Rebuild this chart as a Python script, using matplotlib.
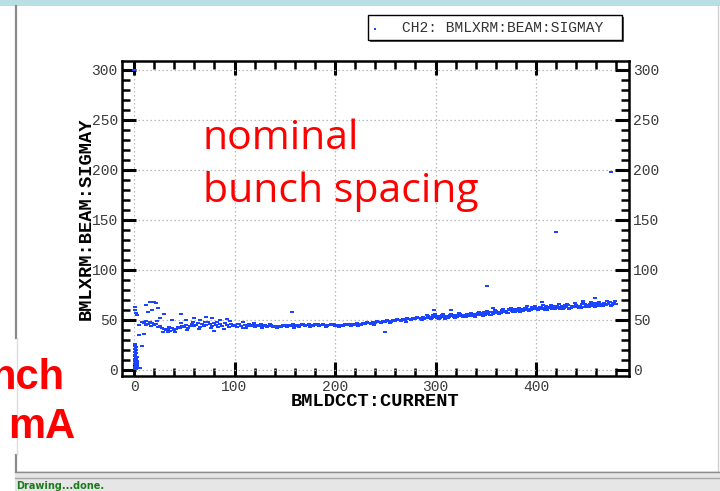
import matplotlib
matplotlib.use("Agg")
import matplotlib.pyplot as plt
from matplotlib.patches import Rectangle
from matplotlib.lines import Line2D
from matplotlib.ticker import MultipleLocator

# ---- data: sigma-y versus beam current ----
band_x = [8, 10, 12, 14, 16, 18, 20, 22, 24, 26, 28, 30, 32, 34, 36, 38, 40, 42, 44, 46,
          48, 50, 52, 54, 56, 58, 60, 62, 64, 66, 68, 70, 72, 74, 76, 78, 80, 82, 84, 86,
          88, 90, 92, 94, 96, 98, 100, 102, 104, 106, 108, 110, 112, 114, 116, 118, 120,
          122, 124, 126, 128, 130, 132, 134, 136, 138, 140, 142, 144, 146, 148, 150, 152,
          154, 156, 158, 160, 162, 164, 166, 168, 170, 172, 174, 176, 178, 180, 182, 184,
          186, 188, 190, 192, 194, 196, 198, 200, 202, 204, 206, 208, 210, 212, 214, 216,
          218, 220, 222, 224, 226, 228, 230, 232, 234, 236, 238, 240, 242, 244, 246, 248,
          250, 252, 254, 256, 258, 260, 262, 264, 266, 268, 270, 272, 274, 276, 278, 280,
          282, 284, 286, 288, 290, 292, 294, 296, 298, 300, 302, 304, 306, 308, 310, 312,
          314, 316, 318, 320, 322, 324, 326, 328, 330, 332, 334, 336, 338, 340, 342, 344,
          346, 348, 350, 352, 354, 356, 358, 360, 362, 364, 366, 368, 370, 372, 374, 376,
          378, 380, 382, 384, 386, 388, 390, 392, 394, 396, 398, 400, 402, 404, 406, 408,
          410, 412, 414, 416, 418, 420, 422, 424, 426, 428, 430, 432, 434, 436, 438, 440,
          442, 444, 446, 448, 450, 452, 454, 456, 458, 460, 462, 464, 466, 468, 470, 472,
          474, 476, 478, 480]
band_y = [48, 47, 49, 46, 48, 47, 45, 46, 43, 44, 42, 41, 40, 41, 39, 42, 40, 41, 43, 42,
          44, 43, 45, 42, 44, 46, 44, 45, 47, 43, 46, 44, 45, 48, 46, 44, 47, 45, 43, 46,
          44, 47, 45, 43, 46, 44, 45, 43, 46, 44, 42, 45, 44, 46, 44, 45, 43,
          45, 44, 46, 44, 45, 43, 44, 45, 43, 44, 42, 44, 43, 45, 44, 43,
          45, 44, 46, 44, 45, 43, 45, 46, 44, 45, 46, 45, 44, 46, 45, 44,
          45, 46, 45, 44, 45, 46, 45, 44, 45, 43, 45, 44, 46, 45, 46, 44,
          46, 45, 47, 46, 45, 47, 46, 48, 47, 46, 48, 47, 49, 48, 47, 49,
          48, 50, 49, 48, 50, 49, 51, 50, 49, 51, 50, 52, 51, 50, 52, 51,
          53, 52, 51, 53, 52, 54, 53, 52, 54, 53, 54, 52, 55, 53, 54, 52,
          55, 54, 53, 55, 54, 56, 54, 55, 53, 56, 55, 54, 56, 55, 57, 55,
          56, 58, 56, 57, 55, 58, 57, 59, 57, 58, 60, 58, 59, 57, 60, 59,
          61, 59, 60, 58, 61, 60, 62, 60, 61, 63, 61, 62, 60, 63, 61, 62,
          64, 62, 63, 61, 64, 62, 63, 61, 64, 62, 63, 65, 62, 64, 63, 65,
          63, 64, 66, 63, 65, 64, 66, 64, 65, 67, 64, 66, 65, 67, 65, 66,
          68, 65, 67, 66]

# second row that thickens the band
thick_x = [12, 17, 23, 29, 35, 41, 47, 53, 59, 65, 71, 77, 83, 89, 95, 103, 111, 119,
           127, 135, 143, 151, 159, 167, 175, 183, 191, 199, 207, 215, 223, 231, 239, 247,
           255, 263, 271, 279, 287, 291, 295, 299, 303, 307, 311, 315, 319, 323, 327, 331,
           335, 339, 343, 347, 351, 355, 359, 363, 367, 371, 375, 379, 383, 387, 391, 395,
           399, 403, 407, 411, 415, 419, 423, 427, 431, 435, 439, 443, 447, 451, 455, 459,
           463, 467, 471, 475, 479]
thick_y = [45, 44, 49, 38, 43, 38, 47, 40, 48, 41, 48, 42, 48, 41, 49, 46, 42, 47,
           42, 46, 43, 45, 42, 46, 43, 46, 43, 46, 44, 46, 44, 47, 45, 48,
           47, 50, 48, 52, 50, 55, 51, 56, 51, 56, 52, 56, 52, 57, 53, 56,
           57, 53, 58, 54, 59, 55, 60, 56, 61, 57, 62, 58, 62, 59, 64, 60,
           64, 61, 65, 60, 65, 61, 66, 61, 66, 62, 67, 62, 67, 63, 68, 63,
           68, 64, 69, 64, 69]

# denser readings at high current
dense_x = [289, 293, 297, 301, 305, 309, 313, 317, 321, 325, 329, 333, 337, 341, 345,
           349, 353, 357, 361, 365, 369, 373, 377, 381, 385, 389, 393, 397, 401, 405,
           409, 413, 417, 421, 425, 429, 433, 437, 441, 445, 449, 453, 457, 461, 465,
           469, 473, 477]
dense_y = [51, 52, 55, 52, 54, 51, 53, 55, 53, 54, 55, 54, 55, 56, 57, 55, 58, 56, 58,
           57, 59, 61, 58, 61, 60, 62, 59, 62, 61, 63, 60, 63, 62, 64, 63, 65, 61, 63,
           64, 62, 66, 63, 67, 66, 64, 66, 68, 67]

# scattered readings off the main band
scatter_x = [1, 1, 2, 3, 5, 5, 8, 10, 12, 14, 16, 18, 20, 22, 24, 26, 30, 34, 38, 47,
             52, 60, 66, 72, 78, 80, 86, 92, 108, 157, 250, 298, 315, 351, 357, 383,
             406, 420, 447, 459, 475, 0]
scatter_y = [60, 63, 57, 55, 45, 35, 24, 36, 65, 58, 68, 60, 68, 67, 62, 52, 56, 38, 50,
             56, 50, 52, 50, 53, 52, 39, 50, 51, 48, 58, 38, 60, 60, 84, 62, 60, 68,
             138, 69, 72, 198, 300]

# low readings at the start of the fill
low_x = [0.5, 1, 1.5, 2, 2.5, 3, 4, 5, 6, 1, 1, 1.5, 1, 0.5, 1, 1, 1.5, 2, 0.5, 1, 2,
         1.5, 0.5, 2, 3, 1, 2, 1.5, 3, 2.5, 3, 2.5]
low_y = [2, 3, 2, 4, 2, 3, 2, 2, 2, 6, 9, 12, 15, 18, 21, 24, 8, 5, 11, 14, 17, 20, 26,
         10, 6, 1, 1, 23, 9, 13, 4, 7]

x_ticks = [0, 100, 200, 300, 400]
y_ticks = [0, 50, 100, 150, 200, 250, 300]
legend_text = "CH2: BMLXRM:BEAM:SIGMAY"
x_label = "BMLDCCT:CURRENT"
y_label = "BMLXRM:BEAM:SIGMAY"

W, H = 720, 491
fig = plt.figure(figsize=(W / 100, H / 100), dpi=100)
fig.patch.set_facecolor("white")

def fx(px):
    return px / W

def fy(py):
    return 1 - py / H

# window chrome
fig.add_artist(Rectangle((0, fy(6)), 1, 6 / H, transform=fig.transFigure,
                         facecolor="#b9dfe4", edgecolor="none"))
fig.add_artist(Line2D([fx(15.5), fx(15.5)], [fy(6), fy(338)], transform=fig.transFigure,
                      color="#8a8a8a", lw=1.6))
fig.add_artist(Line2D([fx(15.5), fx(15.5)], [fy(455), fy(471)], transform=fig.transFigure,
                      color="#8a8a8a", lw=1.6))
fig.add_artist(Line2D([fx(17), fx(17)], [fy(338), fy(455)], transform=fig.transFigure,
                      color="#dddddd", lw=1))
fig.add_artist(Line2D([fx(718), fx(718)], [fy(6), fy(471)], transform=fig.transFigure,
                      color="#d0d0d0", lw=1))
fig.add_artist(Rectangle((fx(15), 0), 1, (H - 471) / H, transform=fig.transFigure,
                         facecolor="#e6e6e6", edgecolor="none"))
fig.add_artist(Line2D([fx(15), 1], [fy(471.5), fy(471.5)], transform=fig.transFigure,
                      color="#8c8c8c", lw=1))
fig.add_artist(Line2D([fx(15), 1], [fy(478), fy(478)], transform=fig.transFigure,
                      color="#a8a8a8", lw=1))
fig.text(fx(16), fy(486), "Drawing...done.", color="#1b7a1b", fontsize=7,
         fontweight="bold", family="DejaVu Sans Condensed", va="center", ha="left")

# plot area
ax = fig.add_axes([fx(122), fy(376), fx(629) - fx(122), fy(61) - fy(376)])
blue = "#1a44ff"
dash = [(-1, -0.65), (1, -0.65), (1, 0.65), (-1, 0.65), (-1, -0.65)]
mk = dict(marker=dash, linestyle="none", color=blue, markersize=2.8, markeredgewidth=0)
ax.plot(band_x, band_y, **mk)
ax.plot(thick_x, thick_y, **mk)
ax.plot(dense_x, dense_y, **mk)
ax.plot(scatter_x, scatter_y, **mk)
ax.plot(low_x, low_y, **mk)

ax.set_xlim(-12, 492.5)
ax.set_ylim(-6, 308.5)
ax.set_xticks(x_ticks)
ax.set_yticks(y_ticks)
ax.xaxis.set_minor_locator(MultipleLocator(20))
ax.yaxis.set_minor_locator(MultipleLocator(10))
ax.grid(True, which="major", color="#b8b8b8", linestyle=(0, (1.2, 2)), linewidth=0.9)
ax.set_axisbelow(True)
for s in ax.spines.values():
    s.set_linewidth(1.8)
    s.set_color("black")
ax.tick_params(which="major", direction="in", length=10, width=2.2, top=True, right=True,
               labelright=True, labelsize=10.5, labelcolor="#3a3a3a", pad=3)
ax.tick_params(which="minor", direction="in", length=6, width=1.8, top=True, right=True)
for lab in ax.get_xticklabels() + ax.get_yticklabels():
    lab.set_family("Liberation Mono")
for t in ax.yaxis.get_major_ticks():
    t.label2.set_family("Liberation Mono")
    t.label2.set_color("#3a3a3a")

ax.set_xlabel(x_label, family="Liberation Mono", fontweight="bold", fontsize=13.5,
              labelpad=-1)
ax.set_ylabel(y_label, family="Liberation Mono", fontweight="bold", fontsize=13.5,
              labelpad=-2)

# legend box with drop shadow
fig.add_artist(Rectangle((fx(370), fy(42)), fx(624) - fx(370), (42 - 17) / H,
                         transform=fig.transFigure, facecolor="#555555", edgecolor="none"))
fig.add_artist(Rectangle((fx(368), fy(40)), fx(622) - fx(368), (40 - 15) / H,
                         transform=fig.transFigure, facecolor="white", edgecolor="black",
                         lw=1))
fig.add_artist(Line2D([fx(375)], [fy(29)], transform=fig.transFigure, marker="s",
                      color=blue, markersize=1.5, markeredgewidth=0, linestyle="none"))
fig.text(fx(402), fy(28), legend_text, family="Liberation Mono", fontsize=10.5,
         color="#333333", va="center", ha="left")

# slide annotations
fig.text(fx(203), fy(149), "nominal", color="#ff0000", fontsize=29.5, family="Open Sans",
         va="baseline", ha="left")
fig.text(fx(203), fy(202), "bunch spacing", color="#ff0000", fontsize=29.5,
         family="Open Sans", va="baseline", ha="left")
fig.text(fx(-10), fy(389), "nch", color="#ff0000", fontsize=30, family="Liberation Sans",
         fontweight="bold", va="baseline", ha="left")
fig.text(fx(8), fy(438), "mA", color="#ff0000", fontsize=30, family="Liberation Sans",
         fontweight="bold", va="baseline", ha="left")

fig.savefig("out.png", dpi=100)
